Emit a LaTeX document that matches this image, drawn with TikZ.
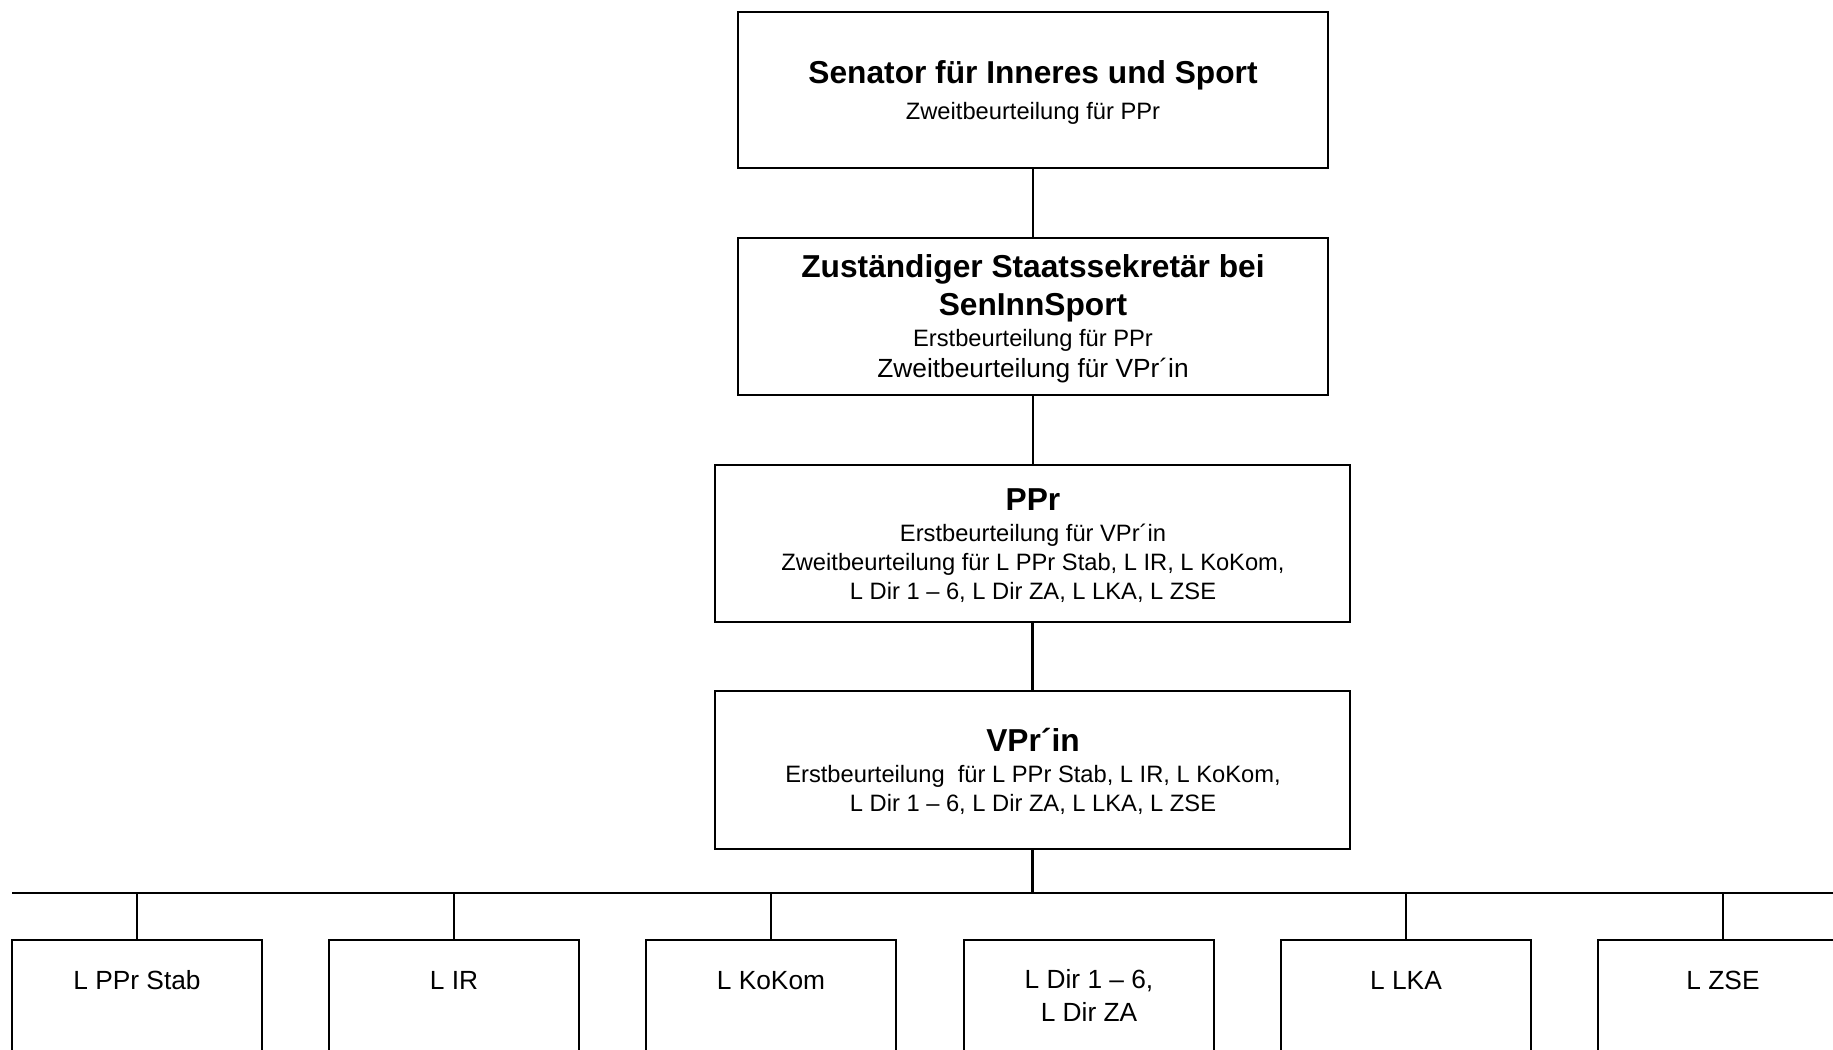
\documentclass[tikz,border=0pt]{standalone}
\usepackage{fontspec}
\setmainfont{Liberation Sans}
\newcommand\mytitlefont{\fontsize{31.7}{37.5}\selectfont\bfseries}
\newcommand\mybodyfont{\fontsize{23.7}{29}\selectfont}
\newcommand\mymidfont{\fontsize{26.3}{32.5}\selectfont}
\begin{document}
\begin{tikzpicture}[x=1pt,y=-1pt,
  box/.style={draw=black, line width=2.5pt, rectangle, inner sep=0pt, minimum width=#1},
  conn/.style={draw=black, line width=2.3pt},
  ttl/.style={anchor=base, inner sep=0pt, align=center, font=\mytitlefont},
  bdy/.style={anchor=base, inner sep=0pt, align=center, font=\mybodyfont},
  mid/.style={anchor=base, inner sep=0pt, align=center, font=\mymidfont}]
\useasboundingbox (0,0) rectangle (1833,1049);
\clip (0,0) rectangle (1833,1049);
\fill[white] (0,0) rectangle (1833,1049);
% main boxes
\node[box=590, minimum height=156] (sen) at (1033,90) {};
\node[box=590, minimum height=157] (sek) at (1033,316.5) {};
\node[box=635, minimum height=157] (ppr) at (1032.5,543.5) {};
\node[box=635, minimum height=158] (vpr) at (1032.5,770) {};
% texts (base anchor = baseline of last line)
\node[ttl] (senT) at (1033,84) {Senator für Inneres und Sport};
\node[bdy] (senB) at (1033,119) {Zweitbeurteilung für PPr};
\node[ttl] (sekT) at (1033,315) {Zuständiger Staatssekretär bei\\SenInnSport};
\node[bdy] (sekB) at (1033,346) {Erstbeurteilung für PPr};
\node[mid] (sekC) at (1033,377) {Zweitbeurteilung für VPr´in};
\node[ttl] (pprT) at (1033,510) {PPr};
\node[bdy] (pprB) at (1033,599) {Erstbeurteilung für VPr´in\\Zweitbeurteilung für L PPr Stab, L IR, L KoKom,\\L Dir 1 – 6, L Dir ZA, L LKA, L ZSE};
\node[ttl] (vprT) at (1033,751) {VPr´in};
\node[bdy] (vprB) at (1033,811) {Erstbeurteilung \ für L PPr Stab, L IR, L KoKom,\\L Dir 1 – 6, L Dir ZA, L LKA, L ZSE};
% bottom boxes
\node[box=250, minimum height=170] (b1) at (137,1025) {};
\node[box=250, minimum height=170] (b2) at (454,1025) {};
\node[box=250, minimum height=170] (b3) at (771,1025) {};
\node[box=250, minimum height=170] (b4) at (1089,1025) {};
\node[box=250, minimum height=170] (b5) at (1406,1025) {};
\node[box=250, minimum height=170] (b6) at (1723,1025) {};
\node[mid] (b1T) at (137,989) {L PPr Stab};
\node[mid] (b2T) at (454,989) {L IR};
\node[mid] (b3T) at (771,989) {L KoKom};
\node[mid] (b4T) at (1089,1021) {L Dir 1 – 6,\\L Dir ZA};
\node[mid] (b5T) at (1406,989) {L LKA};
\node[mid] (b6T) at (1723,989) {L ZSE};
% connectors
\coordinate (busL) at (12,893);
\coordinate (busR) at (1840,893);
\draw[conn] (sen.south) -- (sek.north);
\draw[conn] (sek.south) -- (sek.south |- ppr.north);
\draw[conn] (ppr.south) -- (ppr.south |- vpr.north);
\draw[conn] (vpr.south) -- (vpr.south |- busL);
\draw[conn] (busL) -- (busR);
\foreach \b in {b1,b2,b3,b5,b6}{
  \draw[conn] (\b.north) -- (\b.north |- busL);
}
\end{tikzpicture}
\end{document}
